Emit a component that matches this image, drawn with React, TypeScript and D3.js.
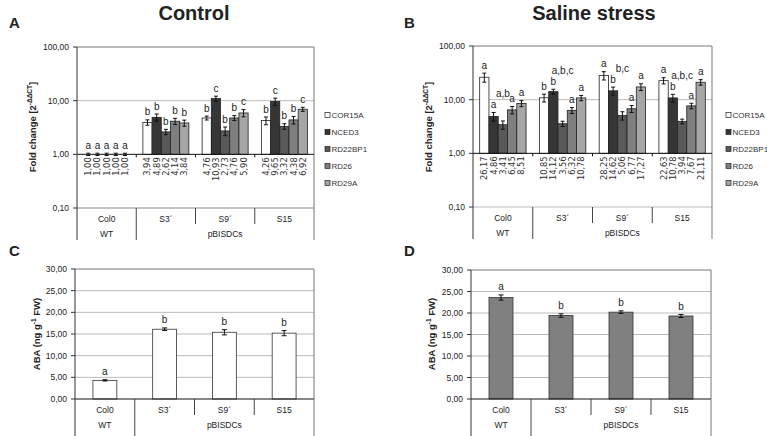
import React from "react";
import * as d3 from "d3";

const categories = ["Col0", "S3´", "S9´", "S15"];
const groupLabels = ["WT", "pBISDCs"];
const groupSpans = [1, 3];
const genes = ["COR15A", "NCED3", "RD22BP1", "RD26", "RD29A"];
const geneColors = ["#ffffff", "#363636", "#595959", "#7f7f7f", "#a6a6a6"];

const controlValues = [
  [1.0, 1.0, 1.0, 1.0, 1.0],
  [3.94, 4.89, 2.62, 4.14, 3.84],
  [4.76, 10.93, 2.73, 4.76, 5.9],
  [4.26, 9.65, 3.32, 4.38, 6.92],
];
const controlErrors = [
  [0.05, 0.05, 0.05, 0.05, 0.05],
  [0.45, 0.75, 0.3, 0.55, 0.5],
  [0.4, 1.2, 0.5, 0.5, 0.9],
  [0.7, 1.5, 0.4, 0.7, 0.6],
];
const controlLetters = [
  ["a", "a", "a", "a", "a"],
  ["b", "b", "b", "b", "b"],
  ["b", "c", "b", "b", "c"],
  ["b", "c", "b", "b", "c"],
];
const salineValues = [
  [26.17, 4.86, 3.41, 6.45, 8.51],
  [10.85, 14.12, 3.56, 6.32, 10.78],
  [28.25, 14.62, 5.06, 6.77, 17.27],
  [22.63, 10.78, 3.94, 7.67, 21.11],
];
const salineErrors = [
  [5, 0.9, 0.6, 1.0, 1.1],
  [1.8, 1.5, 0.4, 0.8, 1.2],
  [5, 2.5, 0.9, 1.0, 2.5],
  [3, 1.8, 0.4, 0.9, 2.5],
];
const salineLetters = [
  ["a", "a", "a,b", "a", "a"],
  ["b", "b", "a,b,c", "a", "a"],
  ["a", "b", "b,c", "a", "a"],
  ["a", "b", "a,b,c", "a", "a"],
];
const abaControl = [4.3, 16.1, 15.4, 15.2];
const abaControlErr = [0.15, 0.3, 0.6, 0.6];
const abaControlLetters = ["a", "b", "b", "b"];
const abaSaline = [23.6, 19.4, 20.2, 19.3];
const abaSalineErr = [0.6, 0.4, 0.3, 0.35];
const abaSalineLetters = ["a", "b", "b", "b"];
const logTicks = [0.1, 1, 10, 100];
const linTicks = [0, 5, 10, 15, 20, 25, 30];

const FONT = "'Liberation Sans', Arial, sans-serif";
const fmt = (v: number) => v.toFixed(2).replace(".", ",");

function CategoryAxis({ x0, x1, yBase, deep }: any) {
  const xCat = d3.scaleBand().domain(categories).range([x0, x1]);
  const rowY1 = yBase + 11;
  const rowY2 = yBase + 26;
  const bottom = yBase + deep;
  const groupStarts: number[] = [];
  let acc = 0;
  groupSpans.forEach((s) => {
    groupStarts.push(acc);
    acc += s;
  });
  return (
    <g fontFamily={FONT}>
      {categories.map((c, i) => {
        const isGroupBoundary = groupStarts.includes(i);
        const x = xCat(c)!;
        return (
          <g key={c}>
            {i > 0 && (
              <line x1={x} x2={x} y1={yBase} y2={isGroupBoundary ? bottom : yBase + 16} stroke="#444" strokeWidth={1} />
            )}
            <text x={x + xCat.bandwidth() / 2} y={rowY1} fontSize={8.5} textAnchor="middle" dominantBaseline="central" fill="#222">
              {c}
            </text>
          </g>
        );
      })}
      {groupLabels.map((g, i) => {
        const a = xCat(categories[groupStarts[i]])!;
        const b = xCat(categories[groupStarts[i] + groupSpans[i] - 1])! + xCat.bandwidth();
        return (
          <text key={g} x={(a + b) / 2} y={rowY2} fontSize={8.5} textAnchor="middle" dominantBaseline="central" fill="#222">
            {g}
          </text>
        );
      })}
      <line x1={x1} x2={x1} y1={yBase} y2={bottom} stroke="#777" />
    </g>
  );
}

function LogPanel({ x0, x1, yTop, yBot, values, errors, letters, legendX, bottomLineColor }: any) {
  const y = d3.scaleLog().domain([0.1, 100]).range([yBot, yTop]);
  const xCat = d3.scaleBand().domain(categories).range([x0, x1]);
  const xGene = d3.scaleBand().domain(genes).range([0, xCat.bandwidth()]).paddingOuter(0.72).paddingInner(0);
  const y1 = y(1);
  const deep = 32;
  return (
    <g fontFamily={FONT}>
      <line x1={x0} x2={x1} y1={y(10)} y2={y(10)} stroke="#bbb" />
      <line x1={x0} x2={x1} y1={y(0.1)} y2={y(0.1)} stroke={bottomLineColor} />
      <line x1={x0} x2={x1} y1={yTop} y2={yTop} stroke="#777" />
      <line x1={x1} x2={x1} y1={yTop} y2={yBot} stroke="#777" />
      {logTicks.map((t) => (
        <g key={t}>
          <line x1={x0 - 4} x2={x0} y1={y(t)} y2={y(t)} stroke="#333" />
          <text x={x0 - 8} y={y(t)} fontSize={8.5} textAnchor="end" dominantBaseline="central" fill="#222">
            {fmt(t)}
          </text>
        </g>
      ))}
      {categories.map((c, ci) => {
        let prevBase = Infinity;
        return (
          <g key={c}>
            {genes.map((g, gi) => {
              const v = values[ci][gi];
              const e = errors[ci][gi];
              const bx = xCat(c)! + xGene(g)!;
              const bw = xGene.bandwidth();
              const cx = bx + bw / 2;
              const yv = y(v);
              const yHi = y(v + e);
              const yLo = y(Math.max(v - e, 0.11));
              let base = yHi - 4.5;
              const lab = letters[ci][gi];
              if (lab.includes(",")) base = Math.min(base, prevBase - 11);
              prevBase = base;
              return (
                <g key={g}>
                  <rect x={bx} y={Math.min(yv, y1)} width={bw} height={Math.abs(y1 - yv)} fill={geneColors[gi]} stroke="#222" strokeWidth={0.8} />
                  <line x1={cx} x2={cx} y1={yHi} y2={yLo} stroke="#111" strokeWidth={1} />
                  <line x1={cx - 2} x2={cx + 2} y1={yHi} y2={yHi} stroke="#111" strokeWidth={1} />
                  <line x1={cx - 2} x2={cx + 2} y1={yLo} y2={yLo} stroke="#111" strokeWidth={1} />
                  <text x={cx} y={base} fontSize={10} textAnchor="middle" fill="#222">
                    {lab}
                  </text>
                  <text transform={`translate(${cx},${y1 + 3}) rotate(-90)`} fontSize={8.3} textAnchor="end" dominantBaseline="central" fill="#333" fontFamily="'DejaVu Sans', sans-serif">
                    {fmt(v)}
                  </text>
                </g>
              );
            })}
          </g>
        );
      })}
      <line x1={x0} x2={x1} y1={y1} y2={y1} stroke="#111" />
      {categories.map((c, i) =>
        i > 0 ? <line key={c} x1={xCat(c)!} x2={xCat(c)!} y1={y1} y2={y1 + 3} stroke="#111" /> : null
      )}
      <line x1={x0} x2={x0} y1={yTop} y2={yBot + deep} stroke="#333" />
      <CategoryAxis x0={x0} x1={x1} yBase={yBot} deep={deep} />
      {genes.map((g, i) => (
        <g key={g}>
          <rect x={legendX} y={115 + i * 17 - 2.5} width={5} height={5} fill={geneColors[i]} stroke="#222" strokeWidth={0.7} />
          <text x={legendX + 6.5} y={115 + i * 17} fontSize={8} dominantBaseline="central" fill="#333">
            {g}
          </text>
        </g>
      ))}
    </g>
  );
}

function LinPanel({ x0, x1, yTop, yBot, values, errs, letters, color }: any) {
  const y = d3.scaleLinear().domain([0, 30]).range([yBot, yTop]);
  const xBar = d3.scaleBand().domain(categories).range([x0, x1]).paddingInner(0.6).paddingOuter(0.3);
  return (
    <g fontFamily={FONT}>
      {linTicks.map((t) => (
        <g key={t}>
          {t > 0 && <line x1={x0} x2={x1} y1={y(t)} y2={y(t)} stroke={t === 30 ? "#777" : "#bbb"} />}
          <line x1={x0 - 4} x2={x0} y1={y(t)} y2={y(t)} stroke="#333" />
          <text x={x0 - 8} y={y(t)} fontSize={8.5} textAnchor="end" dominantBaseline="central" fill="#222">
            {fmt(t)}
          </text>
        </g>
      ))}
      <line x1={x1} x2={x1} y1={yTop} y2={yBot} stroke="#777" />
      {categories.map((c, i) => {
        const bx = xBar(c)!;
        const bw = xBar.bandwidth();
        const cx = bx + bw / 2;
        const v = values[i];
        const e = errs[i];
        const yHi = y(v + e);
        const yLo = y(v - e);
        return (
          <g key={c}>
            <rect x={bx} y={y(v)} width={bw} height={y(0) - y(v)} fill={color} stroke="#333" strokeWidth={0.8} />
            <line x1={cx} x2={cx} y1={yHi} y2={yLo} stroke="#111" />
            <line x1={cx - 2.5} x2={cx + 2.5} y1={yHi} y2={yHi} stroke="#111" />
            <line x1={cx - 2.5} x2={cx + 2.5} y1={yLo} y2={yLo} stroke="#111" />
            <text x={cx} y={yHi - 5} fontSize={10} textAnchor="middle" fill="#222">
              {letters[i]}
            </text>
          </g>
        );
      })}
      <line x1={x0} x2={x1} y1={y(0)} y2={y(0)} stroke="#111" />
      <line x1={x0} x2={x0} y1={yTop} y2={yBot + 40} stroke="#333" />
      <CategoryAxis x0={x0} x1={x1} yBase={yBot} deep={40} />
    </g>
  );
}

export default function App() {
  return (
    <svg width={767} height={436} style={{ position: "absolute", left: 0, top: 0, background: "#fff" }} fontFamily={FONT}>
      <rect width={767} height={436} fill="#fff" />
      <text x={194} y={20} fontSize={20} fontWeight="bold" textAnchor="middle" fill="#222">Control</text>
      <text x={594} y={20} fontSize={20} fontWeight="bold" textAnchor="middle" fill="#222">Saline stress</text>
      <text x={9} y={28} fontSize={15} fontWeight="bold" fill="#222">A</text>
      <text x={404} y={28} fontSize={15} fontWeight="bold" fill="#222">B</text>
      <text x={9} y={256} fontSize={15} fontWeight="bold" fill="#222">C</text>
      <text x={404} y={256} fontSize={15} fontWeight="bold" fill="#222">D</text>

      <text transform="translate(32,127) rotate(-90)" fontSize={9.5} fontWeight="bold" textAnchor="middle" dominantBaseline="central" fill="#222">
        Fold change [2<tspan fontSize={6.5} dy={-3.5}>-ΔΔCT</tspan><tspan dy={3.5}>]</tspan>
      </text>
      <text transform="translate(428,127) rotate(-90)" fontSize={9.5} fontWeight="bold" textAnchor="middle" dominantBaseline="central" fill="#222">
        Fold change [2<tspan fontSize={6.5} dy={-3.5}>-ΔΔCT</tspan><tspan dy={3.5}>]</tspan>
      </text>
      <text transform="translate(36,334) rotate(-90)" fontSize={9.5} fontWeight="bold" textAnchor="middle" dominantBaseline="central" fill="#222">
        ABA (ng g<tspan fontSize={6.5} dy={-3.5}>-1</tspan><tspan dy={3.5}> FW)</tspan>
      </text>
      <text transform="translate(431,334) rotate(-90)" fontSize={9.5} fontWeight="bold" textAnchor="middle" dominantBaseline="central" fill="#222">
        ABA (ng g<tspan fontSize={6.5} dy={-3.5}>-1</tspan><tspan dy={3.5}> FW)</tspan>
      </text>

      <LogPanel x0={77} x1={314} yTop={47} yBot={208} values={controlValues} errors={controlErrors} letters={controlLetters} legendX={325} bottomLineColor="#888" />
      <LogPanel x0={473} x1={712} yTop={46} yBot={207} values={salineValues} errors={salineErrors} letters={salineLetters} legendX={726} bottomLineColor="#bbb" />
      <LinPanel x0={75} x1={314} yTop={269} yBot={399} values={abaControl} errs={abaControlErr} letters={abaControlLetters} color="#ffffff" />
      <LinPanel x0={471} x1={711} yTop={270} yBot={399} values={abaSaline} errs={abaSalineErr} letters={abaSalineLetters} color="#808080" />
    </svg>
  );
}
